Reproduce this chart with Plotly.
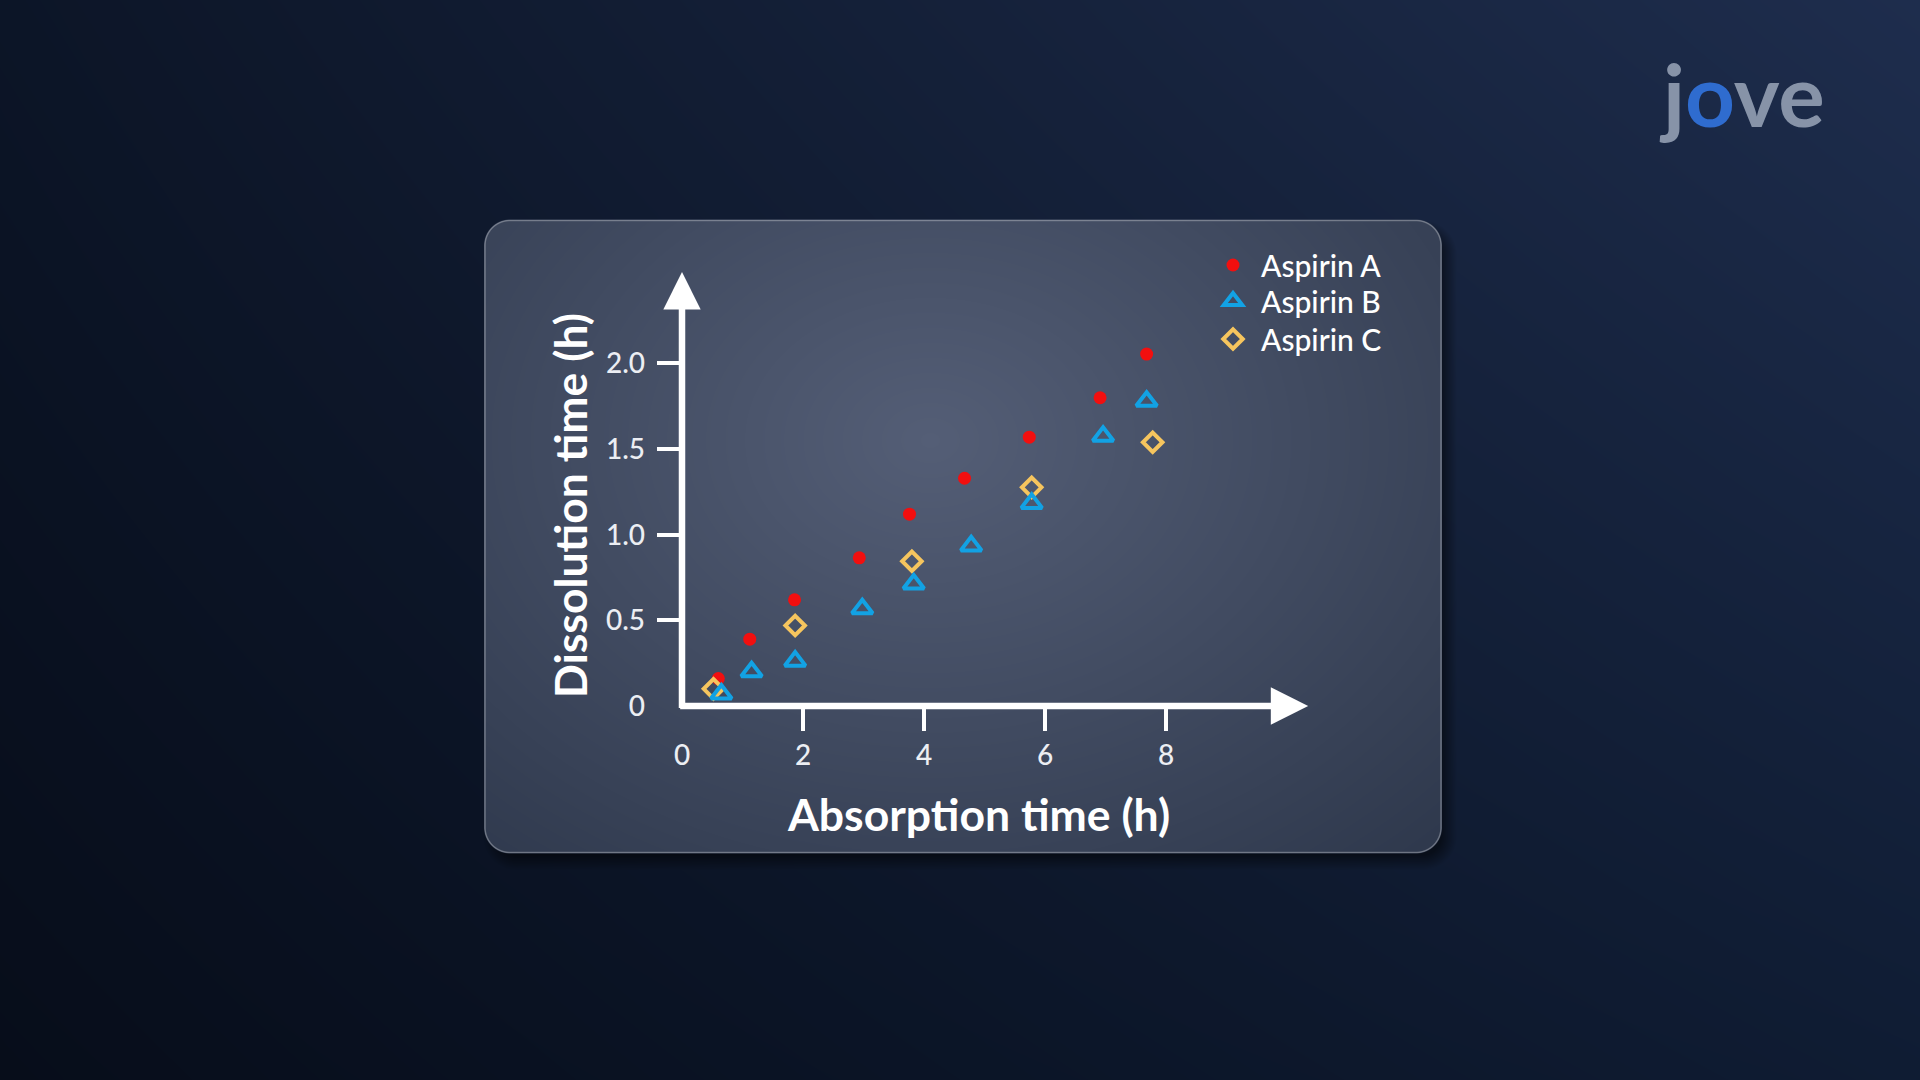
import base64
import struct
import zlib

import numpy as np
import plotly.graph_objects as go

# ---------------- data ----------------
series_names = ["Aspirin A", "Aspirin B", "Aspirin C"]

absorption_a = [0.60, 1.12, 1.86, 2.93, 3.76, 4.67, 5.74, 6.91, 7.68]
dissolution_a = [0.16, 0.39, 0.62, 0.865, 1.12, 1.33, 1.57, 1.80, 2.055]

absorption_b = [0.65, 1.15, 1.87, 2.98, 3.83, 4.78, 5.78, 6.96, 7.68]
dissolution_b = [0.07, 0.20, 0.262, 0.568, 0.712, 0.935, 1.183, 1.575, 1.78]

absorption_c = [0.52, 1.87, 3.80, 5.78, 7.78]
dissolution_c = [0.10, 0.47, 0.845, 1.277, 1.54]

x_tick_vals = [0, 2, 4, 6, 8]
x_tick_text = ["0", "2", "4", "6", "8"]
y_tick_vals = [0, 0.5, 1.0, 1.5, 2.0]
y_tick_text = ["0", "0.5", "1.0", "1.5", "2.0"]

x_title = "Absorption time (h)"
y_title = "Dissolution time (h)"
logo_text = "j<span style='color:#2f6ccf'>o</span>ve"

# ---------------- background image (gradient + panel) ----------------
W, H = 1920, 1080


def png_bytes(arr):
    h, w, _ = arr.shape
    raw = arr.astype(np.int16)
    filt = raw.copy()
    filt[:, 1:, :] = (raw[:, 1:, :] - raw[:, :-1, :]) % 256
    filt = filt.astype(np.uint8).reshape(h, w * 3)
    data = np.hstack([np.ones((h, 1), np.uint8), filt]).tobytes()

    def chunk(t, d):
        c = struct.pack(">I", len(d)) + t + d
        return c + struct.pack(">I", zlib.crc32(t + d) & 0xFFFFFFFF)

    ihdr = struct.pack(">IIBBBBB", w, h, 8, 2, 0, 0, 0)
    return (b"\x89PNG\r\n\x1a\n" + chunk(b"IHDR", ihdr)
            + chunk(b"IDAT", zlib.compress(data, 9)) + chunk(b"IEND", b""))


yy, xx = np.mgrid[0:H, 0:W].astype(np.float64)
u = (xx / (W - 1))[..., None]
v = (1 - yy / (H - 1))[..., None]
BL = np.array([7, 13, 26], float)
TL = np.array([12, 21, 39], float)
BR = np.array([15, 28, 51], float)
TR = np.array([30, 45, 77], float)
img = BL * (1 - u) * (1 - v) + TL * (1 - u) * v + BR * u * (1 - v) + TR * u * v


def rrect_sdf(px, py, x0, y0, x1, y1, r):
    cx, cy = (x0 + x1) / 2, (y0 + y1) / 2
    hw, hh = (x1 - x0) / 2, (y1 - y0) / 2
    qx = np.abs(px - cx) - (hw - r)
    qy = np.abs(py - cy) - (hh - r)
    out = np.sqrt(np.maximum(qx, 0) ** 2 + np.maximum(qy, 0) ** 2)
    inside = np.minimum(np.maximum(qx, qy), 0)
    return out + inside - r


P0x, P0y, P1x, P1y, PR = 483.5, 219.0, 1441.5, 853.0, 26.0
# shadow
ds = rrect_sdf(xx - 7, yy - 9, P0x, P0y, P1x, P1y, PR)
sa = (0.5 * np.clip(0.5 - ds / 16.0, 0, 1))[..., None]
img = img * (1 - sa)
# panel
d = rrect_sdf(xx, yy, P0x, P0y, P1x, P1y, PR)
pa = np.clip(0.5 - d, 0, 1)[..., None]
rr = np.sqrt(((xx - 930) / 650.0) ** 2 + ((yy - 440) / 500.0) ** 2)
t = np.clip(rr / 1.14, 0, 1.1)[..., None]
C0 = np.array([84, 94, 118], float)
C1 = np.array([46, 56, 76], float)
panel = C0 + (C1 - C0) * t
img = img * (1 - pa) + panel * pa
# border
ba = (0.30 * np.clip(1.2 - np.abs(d + 1.0), 0, 1))[..., None] * pa
img = img * (1 - ba) + 255 * ba
img = np.clip(np.round(img), 0, 255).astype(np.uint8)
bg_uri = "data:image/png;base64," + base64.b64encode(png_bytes(img)).decode()

# ---------------- figure ----------------
FONT = "Lato, 'Open Sans', sans-serif"
X_RANGE = [0, 10.4]
Y_RANGE = [0, 2.55]
X_DOMAIN = [0.35521, 0.68292]
Y_DOMAIN = [0.34630, 0.75065]

fig = go.Figure()
fig.add_trace(go.Scatter(
    x=absorption_a, y=dissolution_a, mode="markers", name=series_names[0],
    marker=dict(symbol="circle", size=13, color="#f20f0f"), legend="legend",
    showlegend=True))
fig.add_trace(go.Scatter(
    x=absorption_c, y=dissolution_c, mode="markers", name=series_names[2],
    marker=dict(symbol="diamond-open", size=15, color="#f6c55e",
                line=dict(width=4, color="#f6c55e")), legend="legend3",
    showlegend=True))
fig.add_trace(go.Scatter(
    x=absorption_b, y=dissolution_b, mode="markers", name=series_names[1],
    marker=dict(symbol="triangle-up-open", size=18, color="#12a2e4",
                line=dict(width=4, color="#12a2e4")), legend="legend2",
    showlegend=True))
# carrier for tick-mark overlay axes
fig.add_trace(go.Scatter(x=[], y=[], xaxis="x2", yaxis="y2", showlegend=False,
                         hoverinfo="skip"))

tickfont = dict(family=FONT, size=28, color="#eceef3", weight=500)
legend_font = dict(family=FONT, size=30, color="white", weight=500)
LEG_X = 1205 / W


def legend_at(row_y):
    return dict(x=LEG_X, y=1 - row_y / H, xanchor="left", yanchor="middle",
                bgcolor="rgba(0,0,0,0)", borderwidth=0, font=legend_font,
                itemsizing="trace", itemwidth=46, visible=True)


fig.update_layout(
    autosize=True, showlegend=True,
    margin=dict(l=0, r=0, t=0, b=0, pad=0, autoexpand=False),
    paper_bgcolor="#0c1527", plot_bgcolor="rgba(0,0,0,0)",
    hovermode=False,
    font=dict(family=FONT, color="white"),
    xaxis=dict(range=X_RANGE, domain=X_DOMAIN, showgrid=False, zeroline=False,
               showline=False, tickmode="array", tickvals=x_tick_vals,
               ticktext=x_tick_text, ticks="", tickfont=tickfont,
               ticklabelstandoff=30, fixedrange=True, automargin=False),
    yaxis=dict(range=Y_RANGE, domain=Y_DOMAIN, showgrid=False, zeroline=False,
               showline=False, tickmode="array", tickvals=y_tick_vals,
               ticktext=y_tick_text, ticks="", tickfont=tickfont,
               ticklabelstandoff=36, fixedrange=True, automargin=False),
    xaxis2=dict(range=X_RANGE, overlaying="x", anchor="y2", side="bottom",
                showgrid=False, zeroline=False, showline=False,
                tickmode="array", tickvals=x_tick_vals[1:], ticks="outside",
                ticklen=24, tickwidth=4, tickcolor="white",
                showticklabels=False, fixedrange=True, automargin=False),
    yaxis2=dict(range=Y_RANGE, overlaying="y", anchor="x2", side="left",
                showgrid=False, zeroline=False, showline=False,
                tickmode="array", tickvals=y_tick_vals[1:], ticks="outside",
                ticklen=24, tickwidth=4, tickcolor="white",
                showticklabels=False, fixedrange=True, automargin=False),
    legend=legend_at(265),
    legend2=legend_at(301),
    legend3=legend_at(339),
    images=[dict(source=bg_uri, xref="paper", yref="paper", x=0, y=1,
                 sizex=1, sizey=1, xanchor="left", yanchor="top",
                 sizing="stretch", layer="below")],
)

annotations = [
    # axis lines with arrowheads
    dict(x=0, y=2.534, ax=0, ay=-0.02, xref="x", yref="y", axref="x", ayref="y",
         text="", showarrow=True, arrowhead=2, arrowsize=1.15, arrowwidth=6.5,
         arrowcolor="white", standoff=0),
    dict(x=10.35, y=0, ax=-0.055, ay=0, xref="x", yref="y", axref="x", ayref="y",
         text="", showarrow=True, arrowhead=2, arrowsize=1.15, arrowwidth=6.5,
         arrowcolor="white", standoff=0),
    # axis titles
    dict(x=978 / W, y=1 - 813 / H, xref="paper", yref="paper", text=x_title,
         showarrow=False, xanchor="center", yanchor="middle",
         font=dict(family=FONT, size=44.5, color="white", weight=700)),
    dict(x=569 / W, y=1 - 506 / H, xref="paper", yref="paper", text=y_title,
         showarrow=False, xanchor="center", yanchor="middle", textangle=-90,
         font=dict(family=FONT, size=44.5, color="white", weight=700)),
    # logo
    dict(x=1742 / W, y=1 - 93 / H, xref="paper", yref="paper", text=logo_text,
         showarrow=False, xanchor="center", yanchor="middle",
         font=dict(family="Lato, 'Open Sans', sans-serif", size=87,
                   color="#8793a8", weight="bold")),
]
fig.update_layout(annotations=annotations)

fig.write_html("out.html", config={"displayModeBar": False},
               default_width="1920px;position:fixed;left:0;top:0",
               default_height="1080px")
